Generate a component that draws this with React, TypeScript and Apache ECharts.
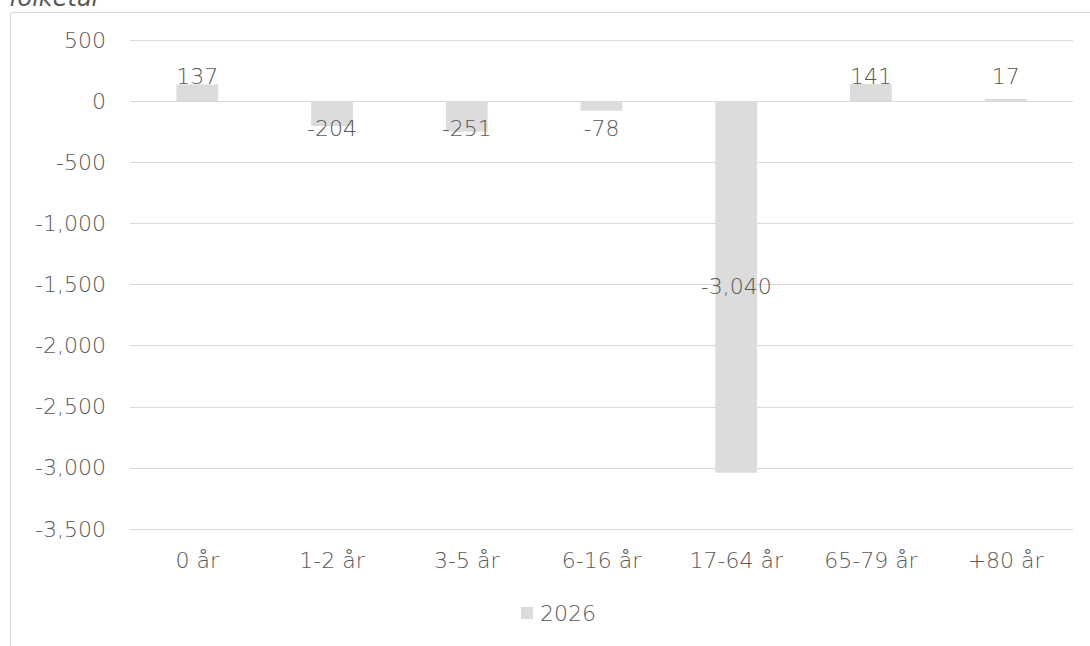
import React, { useEffect, useRef } from "react";
import * as echarts from "echarts";

const categories = ["0 år", "1-2 år", "3-5 år", "6-16 år", "17-64 år", "65-79 år", "+80 år"];
const values2026 = [137, -204, -251, -78, -3040, 141, 17];
const seriesName = "2026";
const yMin = -3500;
const yMax = 500;
const yInterval = 500;
const titleText = "folketal";

const FONT = "'DejaVu Sans'";
const FW = 200;
const FS = 22;
const TXT = "#595959";
const BAR = "#dcdcdc";

function fmt(v: number): string {
  const s = Math.abs(v).toString().replace(/\B(?=(\d{3})+(?!\d))/g, ",");
  return (v < 0 ? "-" : "") + s;
}

export default function App() {
  const ref = useRef<HTMLDivElement>(null);
  useEffect(() => {
    if (!ref.current) return;
    const chart = echarts.init(ref.current, undefined, { renderer: "svg" });
    const data = values2026.map((v) => {
      let label: any;
      if (v >= 0) {
        label = { position: "insideBottom", distance: 14 };
      } else if (v < -1000) {
        label = { position: "inside" };
      } else {
        label = { position: "insideTop", distance: 16 };
      }
      return { value: v, label };
    });
    chart.setOption({
      animation: false,
      backgroundColor: "#ffffff",
      textStyle: { fontFamily: FONT },
      graphic: [
        {
          type: "line",
          shape: { x1: 10.5, y1: 12.5, x2: 1090, y2: 12.5 },
          style: { stroke: "#d9d9d9", lineWidth: 1 },
        },
        {
          type: "line",
          shape: { x1: 10.5, y1: 12.5, x2: 10.5, y2: 646 },
          style: { stroke: "#d9d9d9", lineWidth: 1 },
        },
        {
          type: "text",
          style: {
            x: 9,
            y: 10,
            text: titleText,
            fontFamily: FONT,
            fontStyle: "italic",
            fontWeight: FW,
            fontSize: 24,
            fill: TXT,
            verticalAlign: "bottom",
          },
        },
      ],
      grid: { left: 130, right: 17, top: 40, bottom: 117, containLabel: false },
      legend: {
        data: [seriesName],
        left: 521,
        top: 602,
        padding: 0,
        icon: "rect",
        itemWidth: 12,
        itemHeight: 12,
        itemGap: 4,
        textStyle: { color: TXT, fontSize: FS, fontFamily: FONT, fontWeight: FW, padding: [0, 0, 0, 2] },
      },
      xAxis: {
        type: "category",
        data: categories,
        axisLine: { show: false },
        axisTick: { show: false },
        axisLabel: { color: TXT, fontSize: FS, fontFamily: FONT, fontWeight: FW, margin: 20 },
      },
      yAxis: {
        type: "value",
        min: yMin,
        max: yMax,
        interval: yInterval,
        axisLine: { show: false },
        axisTick: { show: false },
        splitLine: { lineStyle: { color: "#d9d9d9", width: 1 } },
        axisLabel: {
          color: TXT,
          fontSize: FS,
          fontFamily: FONT,
          fontWeight: FW,
          margin: 24,
          formatter: (v: number) => fmt(v),
        },
      },
      series: [
        {
          name: seriesName,
          type: "bar",
          data,
          barWidth: "31%",
          itemStyle: { color: BAR },
          label: {
            show: true,
            color: TXT,
            fontSize: FS,
            fontFamily: FONT,
            fontWeight: FW,
            formatter: (p: any) => fmt(p.value),
          },
        },
      ],
    });
    return () => chart.dispose();
  }, []);
  return (
    <div
      ref={ref}
      style={{ position: "fixed", left: 0, top: 0, width: 1090, height: 646 }}
    />
  );
}
